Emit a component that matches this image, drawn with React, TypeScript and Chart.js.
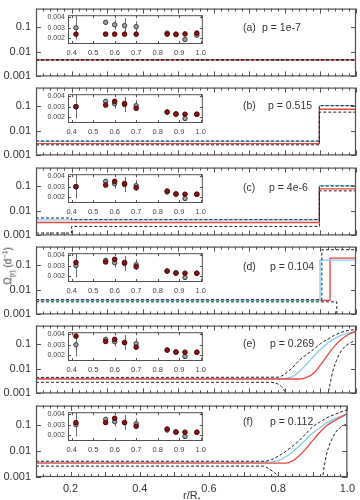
import { useEffect, useRef } from "react";
import { Chart, registerables } from "chart.js";

Chart.register(...registerables);

// ---- main panels: rotation profile Ω(r) in d^-1 ----
const X_TICKS = [0.2, 0.4, 0.6, 0.8, 1.0];
const Y_TICKS = [0.001, 0.01, 0.1];

const PANEL_TAGS = ["(a)", "(b)", "(c)", "(d)", "(e)", "(f)"];
const P_VALUES = ["p = 1e-7", "p = 0.515", "p = 4e-6", "p = 0.104", "p = 0.269", "p = 0.112"];

// (a)
const aR = [0.1, 1.0];
const aRed = [0.0046, 0.0046];
const aBlue = [0.0046, 0.0046];
const aUpper = [0.0046, 0.0046];
const aLower = [0.0046, 0.0046];

// (b)
const bR = [0.1, 0.897, 0.897, 1.0];
const bRed = [0.003, 0.003, 0.072, 0.072];
const bBlue = [0.0037, 0.0037, 0.1, 0.1];
const bUpper = [0.0038, 0.0038, 0.1, 0.1];
const bLower = [0.00266, 0.00266, 0.055, 0.055];

// (c)
const cR = [0.1, 0.897, 0.897, 1.0];
const cRed = [0.0033, 0.0033, 0.075, 0.075];
const cBlue = [0.0042, 0.0042, 0.1, 0.1];
const cBoundR = [0.1, 0.2, 0.2, 0.897, 0.897, 1.0];
const cUpper = [0.005, 0.005, 0.0043, 0.0043, 0.097, 0.097];
const cLower = [0.00124, 0.00124, 0.0023, 0.0023, 0.062, 0.062];

// (d)
const dRedR = [0.1, 0.927, 0.927, 1.0];
const dRed = [0.0037, 0.0037, 0.185, 0.185];
const dBlueR = [0.1, 0.899, 0.899, 1.0];
const dBlue = [0.0037, 0.0037, 0.152, 0.152];
const dUpperR = [0.1, 0.904, 0.904, 1.0];
const dUpper = [0.0039, 0.0039, 0.4, 0.4];
const dLowerR = [0.1, 0.946, 0.946];
const dLower = [0.0032, 0.0032, 0.0003];

// (e)
const eUpperR = [0.1, 0.78, 0.8, 0.82, 0.84, 0.86, 0.88, 0.9, 0.92, 0.94, 0.96, 0.98, 1.0];
const eUpper = [0.0044, 0.0045, 0.006, 0.0105, 0.021, 0.036, 0.058, 0.1, 0.15, 0.22, 0.29, 0.34, 0.37];
const eBlueR = [0.1, 0.8, 0.82, 0.84, 0.86, 0.88, 0.9, 0.92, 0.94, 0.96, 0.98, 1.0];
const eBlue = [0.004, 0.004, 0.0046, 0.0075, 0.0145, 0.03, 0.058, 0.105, 0.16, 0.22, 0.27, 0.31];
const eRedR = [0.1, 0.84, 0.86, 0.88, 0.9, 0.92, 0.94, 0.96, 0.98, 1.0];
const eRed = [0.0038, 0.0038, 0.0043, 0.0063, 0.014, 0.035, 0.08, 0.155, 0.24, 0.31];
const eLowerR = [0.1, 0.76, 0.78, 0.79, 0.8, 0.81, 0.915, 0.925, 0.935, 0.945, 0.96, 0.98, 1.0];
const eLower = [0.0028, 0.0028, 0.0024, 0.0019, 0.0012, 0.0005, 0.0005, 0.0018, 0.008, 0.021, 0.055, 0.1, 0.14];

// (f)
const fUpperR = [0.1, 0.76, 0.78, 0.8, 0.82, 0.84, 0.86, 0.88, 0.9, 0.92, 0.94, 0.96, 0.98, 1.0];
const fUpper = [0.004, 0.004, 0.0046, 0.0062, 0.0092, 0.0145, 0.024, 0.045, 0.083, 0.125, 0.18, 0.235, 0.3, 0.37];
const fBlueR = [0.1, 0.78, 0.8, 0.82, 0.84, 0.86, 0.88, 0.9, 0.92, 0.94, 0.96, 0.98, 1.0];
const fBlue = [0.0037, 0.0037, 0.0042, 0.0057, 0.0087, 0.015, 0.027, 0.048, 0.075, 0.115, 0.16, 0.21, 0.26];
const fRedR = [0.1, 0.82, 0.84, 0.86, 0.88, 0.9, 0.92, 0.94, 0.96, 0.98, 1.0];
const fRed = [0.0034, 0.0034, 0.004, 0.0063, 0.0119, 0.025, 0.05, 0.09, 0.135, 0.19, 0.26];
const fLowerR = [0.1, 0.755, 0.77, 0.785, 0.8, 0.815, 0.925, 0.933, 0.94, 0.95, 0.965, 0.98, 1.0];
const fLower = [0.0026, 0.0026, 0.0022, 0.0016, 0.0011, 0.0006, 0.0006, 0.0025, 0.0075, 0.019, 0.048, 0.078, 0.11];

// ---- insets: observed vs. modelled rotation rates ----
const INSET_X_TICKS = [0.4, 0.5, 0.6, 0.7, 0.8, 0.9, 1.0];
const INSET_Y_TICKS = [0.002, 0.003, 0.004];
const obsR = [0.42, 0.558, 0.6, 0.646, 0.7, 0.844, 0.885, 0.927, 0.982];
const obsOmega = [0.003, 0.0035, 0.00328, 0.0032, 0.0031, 0.0025, 0.00235, 0.0019, 0.0023];
const obsErr = [0.0011, 0.00025, 0.00045, 0.0007, 0.0005, 0.0001, 0.0001, 0.0002, 0.0001];
const modelA = [0.0024, 0.0024, 0.0024, 0.0024, 0.0024, 0.0024, 0.0024, 0.00242, 0.0025];
const modelB = [0.003, 0.00315, 0.0035, 0.0033, 0.00285, 0.0025, 0.0023, 0.0023, 0.0023];
const modelC = [0.003, 0.00315, 0.0035, 0.0033, 0.0029, 0.0026, 0.0023, 0.0023, 0.0023];
const modelD = [0.0033, 0.00335, 0.0036, 0.0033, 0.0029, 0.0025, 0.0023, 0.0023, 0.0023];
const modelE = [0.0038, 0.0033, 0.0035, 0.0032, 0.00277, 0.0025, 0.0023, 0.0023, 0.0023];
const modelF = [0.0032, 0.0032, 0.0036, 0.0032, 0.00286, 0.0026, 0.0023, 0.0023, 0.0023];

type Series = [number[], number[]];
interface PanelLines {
  red: Series;
  blue: Series;
  upper: Series;
  lower: Series;
}

const PANEL_LINES: PanelLines[] = [
  { red: [aR, aRed], blue: [aR, aBlue], upper: [aR, aUpper], lower: [aR, aLower] },
  { red: [bR, bRed], blue: [bR, bBlue], upper: [bR, bUpper], lower: [bR, bLower] },
  { red: [cR, cRed], blue: [cR, cBlue], upper: [cBoundR, cUpper], lower: [cBoundR, cLower] },
  { red: [dRedR, dRed], blue: [dBlueR, dBlue], upper: [dUpperR, dUpper], lower: [dLowerR, dLower] },
  { red: [eRedR, eRed], blue: [eBlueR, eBlue], upper: [eUpperR, eUpper], lower: [eLowerR, eLower] },
  { red: [fRedR, fRed], blue: [fBlueR, fBlue], upper: [fUpperR, fUpper], lower: [fLowerR, fLower] },
];
const MODELS = [modelA, modelB, modelC, modelD, modelE, modelF];

// ---- layout / style ----
const FONT = '"Liberation Sans", Arial, sans-serif';
const W = 360;
const PLOT_LEFT = 36;
const PLOT_RIGHT = 356;
const PANEL_H = 75;
const PANEL_TOPS = [5, 84, 164, 243, 322, 402];
const PAD = 8;
const XAXIS_H = 22;
const SMOOTH = [false, false, false, false, true, true];
const BLUE_ON_TOP = [false, false, false, true, false, false];
const TEXT_DY = [20, 18.5, 20.5, 20.5, 18.5, 16.5];
const P_X = [262, 268, 269, 270, 270, 270];
const RED = "#e8453c";
const BLUE = "#86cdee";
const DASH = "#222222";
const FRAME = "#505050";

const INSET_LEFT = 30;
const INSET_W = 180;
const INSET_PLOT_LEFT = 68;
const INSET_PLOT_RIGHT = 204;
const INSET_PLOT_H = 31;
const INSET_PAD_TOP = 5;
const INSET_XAXIS_H = 14;
const INSET_YAXIS_W = 38;

function lineDataset(s: Series, color: string, dash: number[], width: number, smooth: boolean) {
  return {
    data: s[0].map((x, i) => ({ x, y: s[1][i] })),
    showLine: true,
    borderColor: color,
    backgroundColor: color,
    borderWidth: width,
    borderDash: dash,
    pointRadius: 0,
    fill: false,
    tension: 0,
    cubicInterpolationMode: smooth ? "monotone" : "default",
  };
}

function buildMain(canvas: HTMLCanvasElement, idx: number): Chart {
  const lines = PANEL_LINES[idx];
  const smooth = SMOOTH[idx];
  const showX = idx === PANEL_TAGS.length - 1;
  const red = lineDataset(lines.red, RED, [], 1.3, smooth);
  const blue = lineDataset(lines.blue, BLUE, [], 1.3, smooth);
  const upper = lineDataset(lines.upper, DASH, [3, 2], 1, smooth);
  const lower = lineDataset(lines.lower, DASH, [3, 2], 1, smooth);
  // first dataset is painted last
  const datasets = BLUE_ON_TOP[idx] ? [upper, lower, blue, red] : [upper, lower, red, blue];

  const frame = {
    id: "panelFrame",
    afterDatasetsDraw(chart: any) {
      const { ctx, chartArea: a, scales } = chart;
      const x = scales.x;
      const y = scales.y;
      ctx.save();
      ctx.strokeStyle = FRAME;
      ctx.lineWidth = 1.2;
      ctx.strokeRect(a.left + 0.5, a.top + 0.5, a.right - a.left - 1, a.bottom - a.top - 1);
      ctx.lineWidth = 1;
      ctx.beginPath();
      for (let k = 5; k <= 50; k++) {
        const px = Math.round(x.getPixelForValue(k * 0.02)) + 0.5;
        const len = k % 5 === 0 ? 5 : 3;
        ctx.moveTo(px, a.top);
        ctx.lineTo(px, a.top + len);
        ctx.moveTo(px, a.bottom);
        ctx.lineTo(px, a.bottom - len);
      }
      for (const v of Y_TICKS) {
        const py = Math.round(y.getPixelForValue(v)) + 0.5;
        ctx.moveTo(a.left, py);
        ctx.lineTo(a.left + 5, py);
        ctx.moveTo(a.right, py);
        ctx.lineTo(a.right - 5, py);
      }
      ctx.stroke();
      ctx.fillStyle = "#333";
      ctx.font = `10.5px ${FONT}`;
      ctx.textBaseline = "middle";
      ctx.textAlign = "left";
      ctx.fillText(PANEL_TAGS[idx], 243, a.top + TEXT_DY[idx]);
      ctx.fillText(P_VALUES[idx], P_X[idx], a.top + TEXT_DY[idx]);
      ctx.restore();
    },
  };

  return new Chart(canvas, {
    type: "scatter",
    data: { datasets: datasets as any },
    options: {
      responsive: false,
      maintainAspectRatio: false,
      animation: false,
      devicePixelRatio: 1,
      events: [],
      layout: {
        autoPadding: false,
        padding: { left: 0, right: W - PLOT_RIGHT, top: PAD, bottom: showX ? 0 : PAD },
      },
      plugins: { legend: { display: false }, tooltip: { enabled: false } },
      scales: {
        x: {
          type: "linear",
          min: 0.1,
          max: 1.0,
          display: true,
          grid: { display: false, drawTicks: false },
          border: { display: false },
          afterBuildTicks: (s: any) => {
            s.ticks = X_TICKS.map((value) => ({ value }));
          },
          afterFit: (s: any) => {
            s.height = showX ? XAXIS_H : 0;
          },
          ticks: {
            display: showX,
            color: "#333",
            font: { family: FONT, size: 11 },
            padding: 5,
            maxRotation: 0,
            autoSkip: false,
            callback: (v: any) => Number(v).toFixed(1),
          },
        },
        y: {
          type: "logarithmic",
          min: 0.001,
          max: 0.534,
          grid: { display: false, drawTicks: false },
          border: { display: false },
          afterBuildTicks: (s: any) => {
            s.ticks = Y_TICKS.map((value) => ({ value }));
          },
          afterFit: (s: any) => {
            s.width = PLOT_LEFT;
          },
          ticks: {
            color: "#333",
            font: { family: FONT, size: 11 },
            padding: 5,
            autoSkip: false,
            callback: (v: any) => String(v),
          },
        },
      },
    } as any,
    plugins: [frame],
  });
}

function buildInset(canvas: HTMLCanvasElement, idx: number): Chart {
  const model = MODELS[idx];
  const insetDeco = {
    id: "insetDeco",
    beforeDatasetsDraw(chart: any) {
      const { ctx, scales } = chart;
      const x = scales.x;
      const y = scales.y;
      ctx.save();
      ctx.strokeStyle = "#6a6a6a";
      ctx.lineWidth = 1;
      ctx.beginPath();
      obsR.forEach((r, i) => {
        const px = Math.round(x.getPixelForValue(r)) + 0.5;
        ctx.moveTo(px, y.getPixelForValue(obsOmega[i] + obsErr[i]));
        ctx.lineTo(px, y.getPixelForValue(obsOmega[i] - obsErr[i]));
      });
      ctx.stroke();
      ctx.restore();
    },
    afterDatasetsDraw(chart: any) {
      const { ctx, chartArea: a, scales } = chart;
      const x = scales.x;
      const y = scales.y;
      ctx.save();
      ctx.strokeStyle = FRAME;
      ctx.lineWidth = 1;
      ctx.strokeRect(a.left + 0.5, a.top + 0.5, a.right - a.left - 1, a.bottom - a.top - 1);
      ctx.beginPath();
      for (const v of INSET_X_TICKS) {
        const px = Math.round(x.getPixelForValue(v)) + 0.5;
        ctx.moveTo(px, a.top);
        ctx.lineTo(px, a.top + 3);
        ctx.moveTo(px, a.bottom);
        ctx.lineTo(px, a.bottom - 3);
      }
      for (const v of INSET_Y_TICKS) {
        const py = Math.round(y.getPixelForValue(v)) + 0.5;
        ctx.moveTo(a.left, py);
        ctx.lineTo(a.left + 3, py);
        ctx.moveTo(a.right, py);
        ctx.lineTo(a.right - 3, py);
      }
      ctx.stroke();
      ctx.restore();
    },
  };

  return new Chart(canvas, {
    type: "scatter",
    data: {
      datasets: [
        {
          data: obsR.map((x, i) => ({ x, y: model[i] })),
          pointRadius: 2.3,
          backgroundColor: "#8a1414",
          borderColor: "#4a0606",
          borderWidth: 1,
        },
        {
          data: obsR.map((x, i) => ({ x, y: obsOmega[i] })),
          pointRadius: 2.2,
          backgroundColor: "#a0a0a0",
          borderColor: "#3a3a3a",
          borderWidth: 1,
        },
      ],
    },
    options: {
      responsive: false,
      maintainAspectRatio: false,
      animation: false,
      devicePixelRatio: 1,
      events: [],
      layout: {
        autoPadding: false,
        padding: {
          left: INSET_PLOT_LEFT - INSET_LEFT - INSET_YAXIS_W,
          right: INSET_W - (INSET_PLOT_RIGHT - INSET_LEFT),
          top: INSET_PAD_TOP,
          bottom: 0,
        },
      },
      plugins: { legend: { display: false }, tooltip: { enabled: false } },
      scales: {
        x: {
          type: "linear",
          min: 0.383,
          max: 1.01,
          grid: { display: false, drawTicks: false },
          border: { display: false },
          afterBuildTicks: (s: any) => {
            s.ticks = INSET_X_TICKS.map((value) => ({ value }));
          },
          afterFit: (s: any) => {
            s.height = INSET_XAXIS_H;
          },
          ticks: {
            color: "#444",
            font: { family: FONT, size: 7.5 },
            padding: 4,
            maxRotation: 0,
            autoSkip: false,
            callback: (v: any) => Number(v).toFixed(1),
          },
        },
        y: {
          type: "linear",
          min: 0.00148,
          max: 0.00417,
          grid: { display: false, drawTicks: false },
          border: { display: false },
          afterBuildTicks: (s: any) => {
            s.ticks = INSET_Y_TICKS.map((value) => ({ value }));
          },
          afterFit: (s: any) => {
            s.width = INSET_YAXIS_W;
          },
          ticks: {
            color: "#444",
            font: { family: FONT, size: 7 },
            padding: 3,
            autoSkip: false,
            callback: (v: any) => Number(v).toFixed(3),
          },
        },
      },
    } as any,
    plugins: [insetDeco],
  });
}

export default function App() {
  const mainRefs = useRef<(HTMLCanvasElement | null)[]>([]);
  const insetRefs = useRef<(HTMLCanvasElement | null)[]>([]);

  useEffect(() => {
    const charts: Chart[] = [];
    PANEL_TAGS.forEach((_, i) => {
      const m = mainRefs.current[i];
      const s = insetRefs.current[i];
      if (m) charts.push(buildMain(m, i));
      if (s) charts.push(buildInset(s, i));
    });
    return () => charts.forEach((c) => c.destroy());
  }, []);

  const last = PANEL_TAGS.length - 1;
  const insetH = INSET_PAD_TOP + INSET_PLOT_H + INSET_XAXIS_H;

  return (
    <div
      style={{
        position: "absolute",
        left: 0,
        top: 0,
        width: W,
        height: 500,
        overflow: "hidden",
        background: "#fff",
        fontFamily: FONT,
      }}
    >
      {PANEL_TAGS.map((tag, i) => {
        const h = i === last ? PAD + PANEL_H + XAXIS_H : PAD + PANEL_H + PAD;
        return (
          <canvas
            key={"m" + tag}
            ref={(el) => {
              mainRefs.current[i] = el;
            }}
            width={W}
            height={h}
            style={{ position: "absolute", left: 0, top: PANEL_TOPS[i] - PAD, width: W, height: h }}
          />
        );
      })}
      {PANEL_TAGS.map((tag, i) => (
        <canvas
          key={"s" + tag}
          ref={(el) => {
            insetRefs.current[i] = el;
          }}
          width={INSET_W}
          height={insetH}
          style={{
            position: "absolute",
            left: INSET_LEFT,
            top: PANEL_TOPS[i] + 3,
            width: INSET_W,
            height: insetH,
          }}
        />
      ))}
      <div
        style={{
          position: "absolute",
          left: 9,
          top: 266,
          transform: "translate(-50%, -50%) rotate(-90deg)",
          whiteSpace: "nowrap",
          fontSize: 10,
          color: "#333",
          lineHeight: "12px",
        }}
      >
        Ω<sub style={{ fontSize: 7 }}>(r)</sub> (d<sup style={{ fontSize: 7 }}>−1</sup>)
      </div>
      <div
        style={{
          position: "absolute",
          left: 183,
          top: 489,
          whiteSpace: "nowrap",
          fontSize: 11,
          color: "#333",
          lineHeight: "12px",
        }}
      >
        r/R<sub style={{ fontSize: 7 }}>*</sub>
      </div>
    </div>
  );
}
